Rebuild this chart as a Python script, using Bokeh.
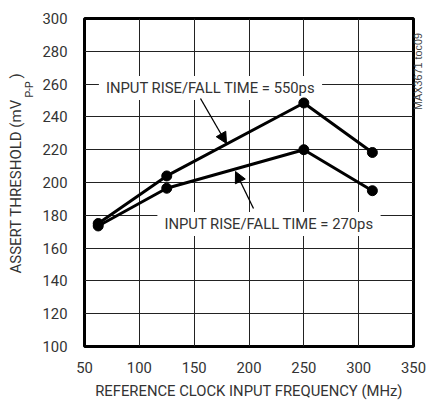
import math
from bokeh.plotting import figure
from bokeh.models import (Label, Arrow, NormalHead, FixedTicker, Range1d, Title,
                          LinearAxis)
from bokeh.embed import file_html
from bokeh.resources import INLINE

# ---- data ----
freq_mhz = [62.5, 125, 250, 312.5]
thr_550ps = [175, 204, 248.5, 218.3]
thr_270ps = [173.5, 196.5, 220, 195]
x_ticks = [50, 100, 150, 200, 250, 300, 350]
y_ticks = [100, 120, 140, 160, 180, 200, 220, 240, 260, 280, 300]
fig_id = "MAX3671 toc09"

FONT = "Roboto"
FS = "14.8px"
TXT = "#333333"

W, H = 443, 402
FL, FR, FT, FB = 84, 413, 18, 346  # frame edges in px

p = figure(width=W, height=H, output_backend="svg", toolbar_location=None,
           x_range=Range1d(50, 350), y_range=Range1d(100, 300),
           min_border_left=FL, min_border_right=W - FR,
           min_border_top=FT, min_border_bottom=H - FB)
p.background_fill_color = "white"
p.border_fill_color = "white"
p.outline_line_color = "black"
p.outline_line_width = 3

for ax, ticks in ((p.xaxis, x_ticks), (p.yaxis, y_ticks)):
    ax.ticker = FixedTicker(ticks=ticks)
    ax.axis_line_color = None
    ax.major_tick_line_color = None
    ax.minor_tick_line_color = None
    ax.major_tick_out = 0
    ax.major_tick_in = 0
    ax.major_label_text_font = FONT
    ax.major_label_text_font_size = FS
    ax.major_label_text_color = TXT
p.xaxis.major_label_standoff = 15
p.yaxis.major_label_standoff = 17

p.xaxis.axis_label = "REFERENCE CLOCK INPUT FREQUENCY (MHz)"
p.xaxis.axis_label_text_font = FONT
p.xaxis.axis_label_text_font_size = FS
p.xaxis.axis_label_text_font_style = "normal"
p.xaxis.axis_label_text_color = TXT
p.xaxis.axis_label_standoff = 6

p.xgrid.ticker = FixedTicker(ticks=x_ticks)
p.ygrid.ticker = FixedTicker(ticks=y_ticks)
for g in (p.xgrid, p.ygrid):
    g.grid_line_color = "#222222"
    g.grid_line_width = 1
    g.grid_line_alpha = 1.0


def dx(px):
    return 50 + (px - FL) / (FR - FL) * 300


def dy(py):
    return 100 + (FB - py) / (FB - FT) * 200


# annotation labels with white boxes
for txt, cx, cy in (("INPUT RISE/FALL TIME = 550ps", 210, 87.5),
                    ("INPUT RISE/FALL TIME = 270ps", 268.5, 223.5)):
    p.add_layout(Label(x=dx(cx), y=dy(cy), text=txt,
                       text_font=FONT, text_font_size=FS, text_color=TXT,
                       text_align="center", text_baseline="middle",
                       background_fill_color="white",
                       padding=dict(left=7, right=7, top=3, bottom=3),
                       level="underlay"))

p.line(freq_mhz, thr_550ps, line_color="black", line_width=3)
p.line(freq_mhz, thr_270ps, line_color="black", line_width=3)
p.scatter(freq_mhz, thr_550ps, size=10, fill_color="black", line_color="black")
p.scatter(freq_mhz, thr_270ps, size=10, fill_color="black", line_color="black")

p.add_layout(Arrow(x_start=dx(200), y_start=dy(98), x_end=dx(226), y_end=dy(143),
                   line_color="black", line_width=1.3,
                   end=NormalHead(size=11, fill_color="black", line_color="black")))
p.add_layout(Arrow(x_start=dx(253), y_start=dy(208), x_end=dx(235), y_end=dy(171),
                   line_color="black", line_width=1.3,
                   end=NormalHead(size=11, fill_color="black", line_color="black")))

# y-axis title with subscript, as side-panel titles
sub = Title(text="P-P", align="left", offset=249, standoff=8,
            text_font=FONT, text_font_size="10.5px", text_font_style="normal",
            text_color=TXT)
main = Title(text="ASSERT THRESHOLD (mV\u2009\u2009\u2009\u2009\u2009\u2009\u2009)",
             align="left", offset=73, standoff=-16,
             text_font=FONT, text_font_size="15px", text_font_style="normal",
             text_color=TXT)
p.add_layout(sub, "left")
p.add_layout(main, "left")

# figure id on the right (vertical tick label of an extra right axis)
id_pos = 284
rax = LinearAxis(ticker=FixedTicker(ticks=[id_pos]),
                 major_label_overrides={id_pos: fig_id},
                 major_label_orientation=math.pi / 2,
                 major_label_standoff=5,
                 major_label_text_font="Liberation Sans",
                 major_label_text_font_size="10.8px",
                 major_label_text_color="#444444",
                 axis_line_color=None, major_tick_line_color=None,
                 minor_tick_line_color=None, major_tick_out=0, major_tick_in=0)
p.add_layout(rax, "right")

open("out.html", "w").write(file_html(p, INLINE))
